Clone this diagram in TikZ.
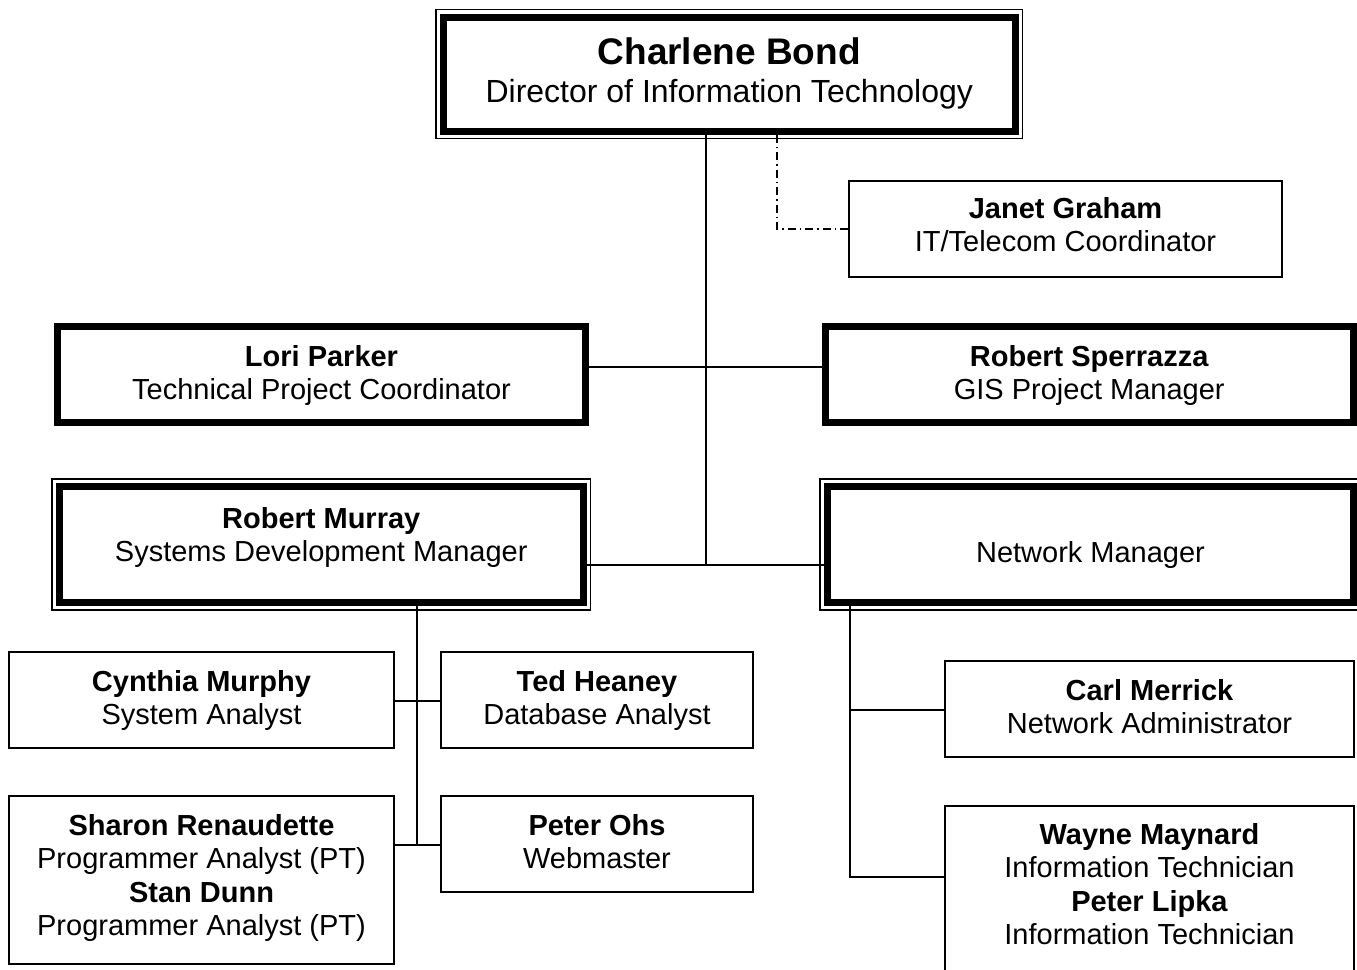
\documentclass[tikz,border=0pt]{standalone}
\usepackage{fontspec}
\setmainfont{Liberation Sans}
\begin{document}
\begin{tikzpicture}[x=1pt,y=-1pt,
  thickbox/.style={draw, line width=7pt, rectangle, inner sep=0pt},
  thinbox/.style={draw, line width=1.5pt, rectangle, inner sep=0pt},
  outerline/.style={line width=1.5pt},
  txt/.style={align=center, inner sep=0pt, anchor=north, font=\fontsize{29}{33.5}\selectfont},
  conn/.style={line width=1.5pt},
  dashdotline/.style={line width=1.5pt, dash pattern=on 8pt off 4pt on 1.5pt off 4pt}]
\fill[white] (0,0) rectangle (1357,969);
\useasboundingbox (0,0) rectangle (1357,969);

% boxes
\node[thickbox, minimum width=571.5pt, minimum height=114pt] (bond) at (729.25,74) {};
\draw[outerline] ([shift={(-4,-4)}]bond.north west) rectangle ([shift={(4,4)}]bond.south east);
\node[thinbox, minimum width=433pt, minimum height=96pt] (janet) at (1065.5,229) {};
\node[thickbox, minimum width=528pt, minimum height=96pt] (lori) at (321.5,374.5) {};
\node[thickbox, minimum width=527.5pt, minimum height=96pt] (sperr) at (1089.25,374.5) {};
\node[thickbox, minimum width=523.5pt, minimum height=116pt] (murray) at (321.25,544.5) {};
\draw[outerline] ([shift={(-4,-4)}]murray.north west) rectangle ([shift={(4,4)}]murray.south east);
\node[thickbox, minimum width=526pt, minimum height=116pt] (netmgr) at (1090.5,544.5) {};
\draw[outerline] ([shift={(-4,-4)}]netmgr.north west) rectangle ([shift={(4,4)}]netmgr.south east);
\node[thinbox, minimum width=385pt, minimum height=96pt] (cyn) at (201.5,700) {};
\node[thinbox, minimum width=312pt, minimum height=96pt] (ted) at (597,700) {};
\node[thinbox, minimum width=385pt, minimum height=168pt] (sharon) at (201.5,880) {};
\node[thinbox, minimum width=312pt, minimum height=96pt] (ohs) at (597,844) {};
\node[thinbox, minimum width=409pt, minimum height=96pt] (carl) at (1149.5,709) {};
\node[thinbox, minimum width=409pt, minimum height=204pt] (wayne) at (1149.5,908) {};

% texts
\node[txt, font=\fontsize{32}{38}\selectfont] (bondt) at (729.25,37) {{\fontsize{37}{38}\selectfont\bfseries Charlene Bond}\\Director of Information Technology};
\node[txt] (janett) at (1065.5,197) {\textbf{Janet Graham}\\IT/Telecom Coordinator};
\node[txt] (lorit) at (321.5,345) {\textbf{Lori Parker}\\Technical Project Coordinator};
\node[txt] (sperrt) at (1089.25,345) {\textbf{Robert Sperrazza}\\GIS Project Manager};
\node[txt] (murrayt) at (321.25,507) {\textbf{Robert Murray}\\Systems Development Manager};
\node[txt] (netmgrt) at (1090.5,541) {Network Manager};
\node[txt] (cynt) at (201.5,670) {\textbf{Cynthia Murphy}\\System Analyst};
\node[txt] (tedt) at (597,670) {\textbf{Ted Heaney}\\Database Analyst};
\node[txt] (sharont) at (201.5,814) {\textbf{Sharon Renaudette}\\Programmer Analyst (PT)\\\textbf{Stan Dunn}\\Programmer Analyst (PT)};
\node[txt] (ohst) at (597,814) {\textbf{Peter Ohs}\\Webmaster};
\node[txt] (carlt) at (1149.5,679) {\textbf{Carl Merrick}\\Network Administrator};
\node[txt] (waynet) at (1149.5,823) {\textbf{Wayne Maynard}\\Information Technician\\\textbf{Peter Lipka}\\Information Technician};

% connectors
\coordinate (j1) at (706,367);
\coordinate (j2) at (706,565);
\coordinate (jd) at (777,229);
\coordinate (k1) at (417,701);
\coordinate (k2) at (417,845);
\coordinate (m1) at (850,710);
\coordinate (m2) at (850,877);
\draw[conn] (bond.south -| j2) -- (j2);
\draw[conn] (lori.east |- j1) -- (sperr.west |- j1);
\draw[conn] (murray.east |- j2) -- (netmgr.west |- j2);
\draw[dashdotline] (bond.south -| jd) -- (jd) -- (janet.west);
\draw[conn] (murray.south -| k1) -- (k2);
\draw[conn] (cyn.east |- k1) -- (ted.west |- k1);
\draw[conn] (sharon.east |- k2) -- (ohs.west |- k2);
\draw[conn] (netmgr.south -| m1) -- (m2) -- (wayne.west |- m2);
\draw[conn] (m1) -- (carl.west |- m1);
\end{tikzpicture}
\end{document}
